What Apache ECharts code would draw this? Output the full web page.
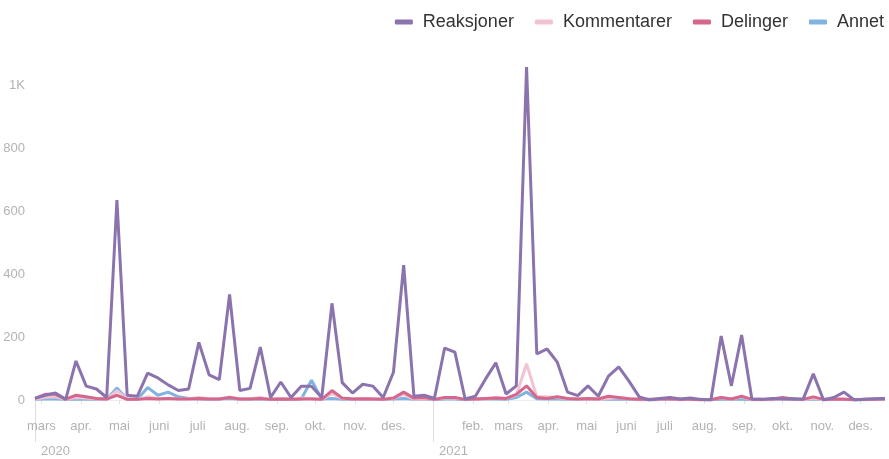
<!DOCTYPE html>
<html><head><meta charset="utf-8">
<script src="https://cdn.jsdelivr.net/npm/echarts@6/dist/echarts.min.js"></script>
<style>html,body{margin:0;padding:0;background:#fff}#c{width:889px;height:459px}</style>
</head><body><div id="c"></div>
<script>
const dates = ['2020-02-25','2020-03-04','2020-03-12','2020-03-20','2020-03-28','2020-04-05','2020-04-13','2020-04-21','2020-04-29','2020-05-07',
'2020-05-15','2020-05-23','2020-05-31','2020-06-08','2020-06-16','2020-06-24','2020-07-02','2020-07-10','2020-07-18','2020-07-26',
'2020-08-03','2020-08-11','2020-08-19','2020-08-27','2020-09-04','2020-09-12','2020-09-20','2020-09-28','2020-10-06','2020-10-14',
'2020-10-22','2020-10-30','2020-11-07','2020-11-15','2020-11-23','2020-12-01','2020-12-09','2020-12-17','2020-12-25','2021-01-02',
'2021-01-10','2021-01-18','2021-01-26','2021-02-03','2021-02-11','2021-02-19','2021-02-27','2021-03-07','2021-03-15','2021-03-23',
'2021-03-31','2021-04-08','2021-04-16','2021-04-24','2021-05-02','2021-05-10','2021-05-18','2021-05-26','2021-06-03','2021-06-11',
'2021-06-19','2021-06-27','2021-07-05','2021-07-13','2021-07-21','2021-07-29','2021-08-06','2021-08-14','2021-08-22','2021-08-30',
'2021-09-07','2021-09-15','2021-09-23','2021-10-01','2021-10-09','2021-10-17','2021-10-25','2021-11-02','2021-11-10','2021-11-18',
'2021-11-26','2021-12-04','2021-12-12','2021-12-20'];

const reaksjoner = [5,15,22,2,124,44,35,8,635,15, 12,85,70,48,30,35,183,80,65,335, 30,37,168,8,57,8,44,44,8,307,
  55,22,50,44,8,88,428,12,15,5, 165,152,3,12,67,118,19,45,1057,146, 162,120,25,14,45,12,76,105,60,10,
  0,5,8,3,6,2,0,203,45,206, 3,2,5,3,4,2,83,0,8,25, 0,2,4,5];
const kommentarer = [3,8,10,2,8,6,4,2,30,3, 2,10,5,5,3,4,8,4,3,10, 3,4,8,2,4,2,6,5,2,20,
  5,3,4,3,2,5,18,3,4,2, 6,6,2,2,4,8,5,15,115,10, 10,8,4,3,4,2,5,8,4,2,
  1,2,2,1,2,1,1,8,3,10, 1,1,2,2,4,1,6,1,2,2, 1,1,2,3];
const delinger = [5,18,18,3,15,10,5,3,15,2, 2,5,3,5,3,3,5,3,3,8, 3,3,5,2,3,2,3,3,2,30,
  6,3,4,3,2,6,25,6,8,2, 8,8,2,3,5,6,5,18,45,8, 5,10,5,3,5,3,12,8,4,2,
  2,3,3,2,2,1,1,8,3,12, 2,2,3,8,3,2,10,2,3,2, 1,2,2,3];
const annet = [2,3,3,2,3,2,3,2,38,2, 2,40,15,25,10,5,3,2,3,5, 2,3,3,2,3,2,3,63,3,5,
  2,2,3,2,2,3,5,2,2,1, 3,3,1,2,3,3,2,8,25,4, 3,3,2,2,2,2,3,2,2,1,
  1,1,2,1,2,1,1,2,2,2, 1,1,1,2,2,1,3,1,2,2, 1,1,2,3];

const monthStarts = ['2020-03-01','2020-04-01','2020-05-01','2020-06-01','2020-07-01','2020-08-01','2020-09-01','2020-10-01','2020-11-01','2020-12-01',
  '2021-02-01','2021-03-01','2021-04-01','2021-05-01','2021-06-01','2021-07-01','2021-08-01','2021-09-01','2021-10-01','2021-11-01','2021-12-01'];
const monthNames = ['jan.','feb.','mars','apr.','mai','juni','juli','aug.','sep.','okt.','nov.','des.'];
const yearMarks = ['2020-02-25','2021-01-01'];
const yearLabels = ['2020','2021'];
const seriesNames = ['Reaksjoner','Kommentarer','Delinger','Annet'];
const colors = ['#8b73ae','#f1c3d4','#d5678c','#80b3e0'];

const ts = s => { const [y,m,d] = s.split('-').map(Number); return Date.UTC(y, m-1, d); };
const xMin = ts(dates[0]), xMax = ts(dates[dates.length-1]);
const monthVals = monthStarts.map(ts);
const yearVals = yearMarks.map(ts);
const font = "'Liberation Sans', Arial, sans-serif";
const pairs = arr => arr.map((v,i)=>[ts(dates[i]), v]);

const chart = echarts.init(document.getElementById('c'));
chart.setOption({
  animation:false,
  textStyle:{fontFamily:font},
  legend:{
    top:8, right:0, icon:'roundRect', itemWidth:18, itemHeight:5, itemGap:21,
    textStyle:{fontSize:18, color:'#333', fontFamily:font, padding:[0,0,0,5]},
    data:seriesNames
  },
  grid:{left:35, right:4, top:53.5, bottom:59, containLabel:false},
  xAxis:[{
    type:'value', min:xMin, max:xMax, position:'bottom',
    axisLine:{show:true, lineStyle:{color:'#ececec'}},
    axisTick:{show:true, length:4, lineStyle:{color:'#e0e0e0'}, customValues:monthVals},
    axisLabel:{customValues:monthVals, color:'#b3b3b3', fontSize:13, margin:20,
      formatter:v=>monthNames[new Date(v).getUTCMonth()]},
    splitLine:{show:false}
  },{
    type:'value', min:xMin, max:xMax, position:'bottom',
    axisLine:{show:false},
    axisTick:{show:true, length:42, lineStyle:{color:'#dedede'}, customValues:yearVals},
    axisLabel:{customValues:yearVals, color:'#b3b3b3', fontSize:13, margin:45, align:'left', padding:[0,0,0,6],
      formatter:v=>{ const k = yearVals.indexOf(v); return k>=0 ? yearLabels[k] : ''; }},
    splitLine:{show:false}
  }],
  yAxis:{
    type:'value', min:0, max:1100, interval:200,
    axisLine:{show:false}, axisTick:{show:false},
    splitLine:{show:false},
    axisLabel:{color:'#b3b3b3', fontSize:13, margin:10, showMaxLabel:false,
      formatter:v=> v>=1000 ? (v/1000)+'K' : String(v)}
  },
  series:[
    {name:seriesNames[0], type:'line', data:pairs(reaksjoner), showSymbol:false, z:5, color:colors[0], lineStyle:{width:3, color:colors[0]}},
    {name:seriesNames[1], type:'line', data:pairs(kommentarer), showSymbol:false, z:3, color:colors[1], lineStyle:{width:3, color:colors[1]}},
    {name:seriesNames[2], type:'line', data:pairs(delinger), showSymbol:false, z:4, color:colors[2], lineStyle:{width:3, color:colors[2]}},
    {name:seriesNames[3], type:'line', data:pairs(annet), showSymbol:false, z:2, color:colors[3], lineStyle:{width:3, color:colors[3]}}
  ]
});
</script></body></html>
